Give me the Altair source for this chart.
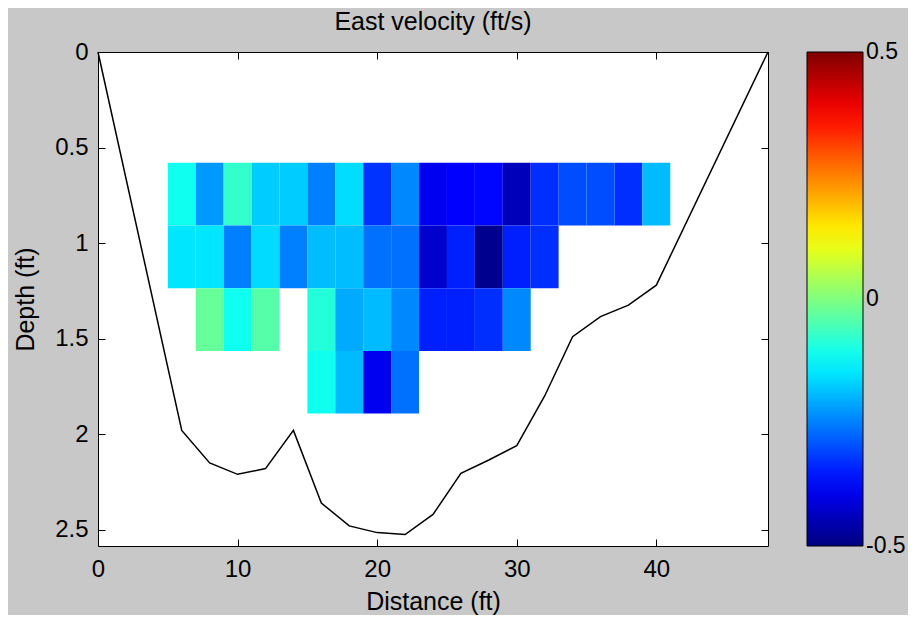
import altair as alt
import pandas as pd

# ---- data ----
dist_centers = [6, 8, 10, 12, 14, 16, 18, 20, 22, 24, 26, 28, 30, 32, 34, 36, 38, 40]
depth_centers = [0.744, 1.072, 1.400, 1.728]
cell_width = 2.0
cell_height = 0.328

N = None
row1 = [-0.11, -0.225, -0.075, -0.175, -0.175, -0.25, -0.158, -0.325, -0.242,
        -0.39, -0.375, -0.37, -0.442, -0.33, -0.30, -0.30, -0.33, -0.192]
row2 = [-0.15, -0.15, -0.25, -0.16, -0.25, -0.19, -0.19, -0.265, -0.265,
        -0.425, -0.345, -0.485, -0.345, -0.33, N, N, N, N]
row3 = [N, -0.025, -0.11, -0.042, N, -0.09, -0.208, -0.192, -0.242,
        -0.345, -0.345, -0.33, -0.242, N, N, N, N, N]
row4 = [N, N, N, N, N, -0.11, -0.192, -0.39, -0.265,
        N, N, N, N, N, N, N, N, N]
rows = [row1, row2, row3, row4]

bed_x = [0, 6, 8, 10, 12, 14, 16, 18, 20, 22, 24, 26, 28, 30, 32, 34, 36, 38, 40, 48]
bed_depth = [0, 1.98, 2.15, 2.21, 2.18, 1.98, 2.36, 2.48, 2.515, 2.525, 2.42, 2.205,
             2.135, 2.06, 1.80, 1.49, 1.385, 1.325, 1.22, 0]

x_ticks = [0, 10, 20, 30, 40]
y_ticks = [0, 0.5, 1, 1.5, 2, 2.5]
# colorbar tick positions (kept a hair inside the ends so labels centre on them)
cbar_ticks = [-0.4999, 0, 0.4999]

jet_domain = [-0.5, -0.375, -0.125, 0.125, 0.375, 0.5]
jet_colors = ["#000080", "#0000ff", "#00ffff", "#ffff00", "#ff0000", "#800000"]

# ---- build tables ----
recs = []
for dc, row in zip(depth_centers, rows):
    for xc, v in zip(dist_centers, row):
        if v is None:
            continue
        recs.append({"x0": xc - cell_width / 2, "x1": xc + cell_width / 2,
                     "d0": dc - cell_height / 2, "d1": dc + cell_height / 2, "v": v})
cells = pd.DataFrame(recs)
bed = pd.DataFrame({"x": bed_x, "d": bed_depth, "i": list(range(len(bed_x)))})

FONT = "Liberation Sans"
W, H = 670, 494
TS = 7

xs = alt.Scale(domain=[0, 48], nice=False, zero=False)
ys = alt.Scale(domain=[0, 2.585], reverse=True, nice=False, zero=False)

common = dict(domain=False, grid=False, tickSize=TS, offset=-TS, tickColor="black",
              tickWidth=1, labelFont=FONT, labelFontSize=24, labelColor="black",
              labelFlush=False, labelOverlap=False,
              titleFont=FONT, titleFontSize=25, titleFontWeight="normal", titleColor="black")

rect = alt.Chart(cells).mark_rect().encode(
    x=alt.X("x0:Q", scale=xs,
            axis=alt.Axis(orient="bottom", values=x_ticks, format="d", title="Distance (ft)",
                          labelPadding=11, titleBaseline="alphabetic", titleY=70,
                          titleX=W / 2, titleAlign="center", **common)),
    x2="x1:Q",
    y=alt.Y("d0:Q", scale=ys,
            axis=alt.Axis(orient="left", values=y_ticks, format="~g", title="Depth (ft)",
                          labelPadding=10, titleBaseline="alphabetic", titleX=-72,
                          titleY=H / 2, titleAlign="center", titleAngle=-90, **common)),
    y2="d1:Q",
    color=alt.Color("v:Q",
                    scale=alt.Scale(domain=jet_domain, range=jet_colors, interpolate="rgb"),
                    legend=alt.Legend(orient="none", legendX=709, legendY=0, direction="vertical",
                                      gradientLength=H, gradientThickness=56,
                                      gradientStrokeColor="black", gradientStrokeWidth=1,
                                      values=cbar_ticks,
                                      labelExpr="'' + round(datum.value * 10) / 10",
                                      labelOffset=3,
                                      labelFont=FONT, labelFontSize=23, labelColor="black",
                                      labelOverlap=False, title=None)),
)

sec = dict(common)
line = alt.Chart(bed).mark_line(color="black", strokeWidth=1.5).encode(
    x=alt.X("x:Q", scale=xs, axis=alt.Axis(orient="top", values=x_ticks, labels=False, title=None, **sec)),
    y=alt.Y("d:Q", scale=ys, axis=alt.Axis(orient="right", values=y_ticks, labels=False, title=None, **sec)),
    order="i:Q",
)

chart = alt.layer(rect, line).resolve_axis(x="independent", y="independent").properties(
    width=W, height=H,
    title=alt.TitleParams("East velocity (ft/s)", font=FONT, fontSize=25, fontWeight="normal",
                          color="black", anchor="middle", offset=5),
    autosize=alt.AutoSizeParams(type="none"),
    padding={"left": 90, "top": 44, "right": 140, "bottom": 69},
    background="#c8c8c8",
).configure_view(fill="white", stroke="black", strokeWidth=1)

chart.save("out.html", embed_options={"renderer": "svg", "actions": False})
